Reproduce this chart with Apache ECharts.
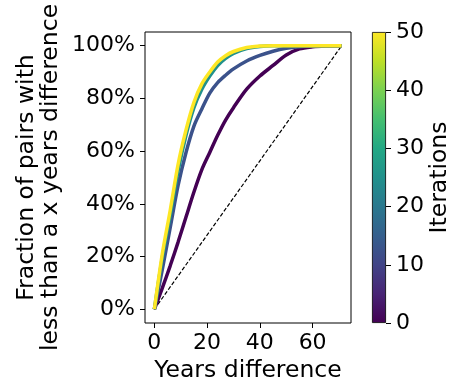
<!DOCTYPE html>
<html>
<head>
<meta charset="utf-8">
<script src="https://cdn.jsdelivr.net/npm/echarts@6/dist/echarts.min.js"></script>
<style>
  html, body { margin: 0; padding: 0; background: #fff; }
  #chart { width: 454px; height: 383px; }
</style>
</head>
<body>
<div id="chart"></div>
<script>
// years difference (x) shared by all curves
const years = [0, 3, 6, 9, 12, 15, 18, 21, 24, 27, 30, 35, 40, 45, 50, 55, 60, 65, 71];

// cumulative fraction (%) per iteration
const iterations = [0, 10, 30, 50];
const fracIter0  = [0, 8, 16.5, 25.5, 35, 44.5, 53, 59.5, 66, 71.8, 76.5, 83.5, 88.5, 92.5, 96.5, 98.8, 99.6, 99.9, 100];
const fracIter10 = [0, 15, 31, 47, 59.5, 69.5, 76, 82, 86, 88.8, 91.2, 94.2, 96.3, 97.9, 99, 99.6, 99.9, 100, 100];
const fracIter30 = [0, 19.5, 35.5, 52.5, 66, 76.5, 83.5, 88.5, 92.5, 95.2, 97.1, 98.9, 99.7, 100, 100, 100, 100, 100, 100];
const fracIter50 = [0, 21, 37.5, 55, 68, 78.5, 85.5, 90, 93.8, 96.2, 97.8, 99.3, 99.9, 100, 100, 100, 100, 100, 100];

// reference diagonal
const diagX = [0, 71];
const diagY = [0, 100];

const xTicks = [0, 20, 40, 60];
const yTicks = [0, 20, 40, 60, 80, 100];
const cbarMax = 50;

const lineColors = ['#440154', '#3b528b', '#21918c', '#fde725'];
const viridis = ['#440154', '#482475', '#414487', '#355f8d', '#2a788e', '#21918c',
                 '#22a884', '#44bf70', '#7ad151', '#bddf26', '#fde725'];

const font = 'DejaVu Sans';
const tickSize = 22;
const nameSize = 23.5;
const allFrac = [fracIter0, fracIter10, fracIter30, fracIter50];

const chart = echarts.init(document.getElementById('chart'));

const curveSeries = allFrac.map((arr, i) => ({
  name: 'Iteration ' + iterations[i],
  type: 'line',
  xAxisIndex: 0,
  yAxisIndex: 0,
  showSymbol: false,
  smooth: 0.3,
  lineStyle: { width: 3.5, color: lineColors[i] },
  data: years.map((x, j) => [x, arr[j]]),
  z: 3 + i
}));

chart.setOption({
  animation: false,
  grid: [
    { left: 145, right: 103, top: 32, bottom: 60, show: true, borderColor: '#000', borderWidth: 1, outerBoundsMode: 'none' },
    { left: 372, width: 14, top: 32, bottom: 60, outerBoundsMode: 'none' }
  ],
  xAxis: [
    {
      type: 'value',
      gridIndex: 0,
      min: -3.55,
      max: 74.55,
      name: 'Years difference',
      nameLocation: 'middle',
      nameGap: 33,
      nameTextStyle: { fontFamily: font, fontSize: nameSize, color: '#000' },
      axisLine: { show: false, onZero: false },
      axisTick: { show: true, customValues: xTicks, length: 5, lineStyle: { color: '#000' } },
      axisLabel: { customValues: xTicks, margin: 9, fontFamily: font, fontSize: tickSize, color: '#000' },
      splitLine: { show: false }
    },
    {
      type: 'category',
      gridIndex: 1,
      data: [''],
      show: false
    }
  ],
  yAxis: [
    {
      type: 'value',
      gridIndex: 0,
      min: -5.2,
      max: 105.2,
      name: 'Fraction of pairs with\nless than a x years difference',
      nameLocation: 'middle',
      nameRotate: 90,
      nameGap: 82,
      nameTextStyle: { fontFamily: font, fontSize: nameSize, color: '#000', lineHeight: 24 },
      axisLine: { show: false, onZero: false },
      axisTick: { show: true, customValues: yTicks, length: 5, lineStyle: { color: '#000' } },
      axisLabel: { customValues: yTicks, margin: 10, fontFamily: font, fontSize: tickSize, color: '#000', formatter: '{value}%' },
      splitLine: { show: false }
    },
    {
      type: 'value',
      gridIndex: 1,
      position: 'right',
      min: 0,
      max: cbarMax,
      interval: 10,
      name: 'Iterations',
      nameLocation: 'middle',
      nameRotate: 90,
      nameGap: 42,
      nameTextStyle: { fontFamily: font, fontSize: nameSize, color: '#000' },
      axisLine: { show: false },
      axisTick: { show: true, length: 5, lineStyle: { color: '#000' } },
      axisLabel: { margin: 10, fontFamily: font, fontSize: tickSize, color: '#000' },
      splitLine: { show: false }
    }
  ],
  series: [
    {
      name: 'diagonal',
      type: 'line',
      xAxisIndex: 0,
      yAxisIndex: 0,
      showSymbol: false,
      lineStyle: { width: 1.2, color: '#000', type: [4, 2] },
      data: diagX.map((x, i) => [x, diagY[i]]),
      z: 2
    },
    ...curveSeries,
    {
      name: 'colorbar',
      type: 'bar',
      xAxisIndex: 1,
      yAxisIndex: 1,
      barWidth: '100%',
      data: [cbarMax],
      itemStyle: {
        borderColor: '#000',
        borderWidth: 0.8,
        color: new echarts.graphic.LinearGradient(0, 1, 0, 0,
          viridis.map((c, i) => ({ offset: i / (viridis.length - 1), color: c })))
      }
    }
  ]
});
</script>
</body>
</html>
